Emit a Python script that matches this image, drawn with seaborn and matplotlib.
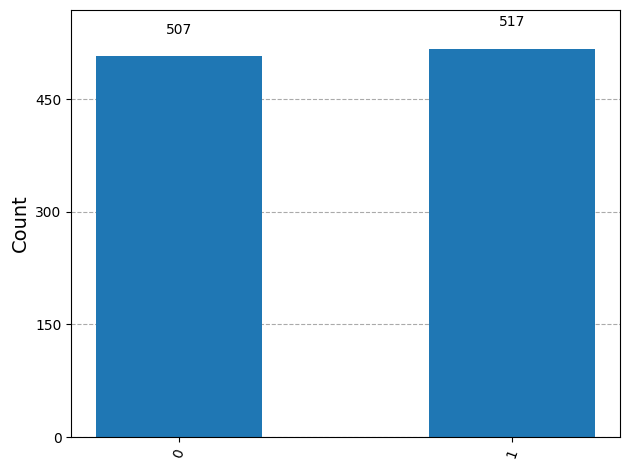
import matplotlib
matplotlib.use("Agg")
import matplotlib.pyplot as plt
import seaborn as sns
import pandas as pd

# measurement outcomes and counts
outcomes = ["0", "1"]
counts = [507, 517]

df = pd.DataFrame({"outcome": outcomes, "count": counts})

fig, ax = plt.subplots(figsize=(6.3, 4.7), dpi=100)
sns.barplot(data=df, x="outcome", y="count", color="#1f77b4", saturation=1,
            width=0.5, ax=ax, zorder=2)

# value labels above bars
for i, c in enumerate(counts):
    ax.text(i, 1.05 * c, str(c), ha="center", va="bottom", fontsize=10)

ax.set_xlim(-0.325, 1.325)
ax.set_ylim(0, max(counts) * 1.1)
ax.set_yticks([0, 150, 300, 450])
ax.yaxis.grid(True, linestyle="--", color="#aaaaaa", zorder=0)
ax.set_axisbelow(True)
ax.set_xlabel("")
ax.set_ylabel("Count", fontsize=14)
plt.setp(ax.get_xticklabels(), rotation=70)

fig.subplots_adjust(left=0.113, right=0.984, top=0.979, bottom=0.070)
plt.savefig("out.png", dpi=100)
